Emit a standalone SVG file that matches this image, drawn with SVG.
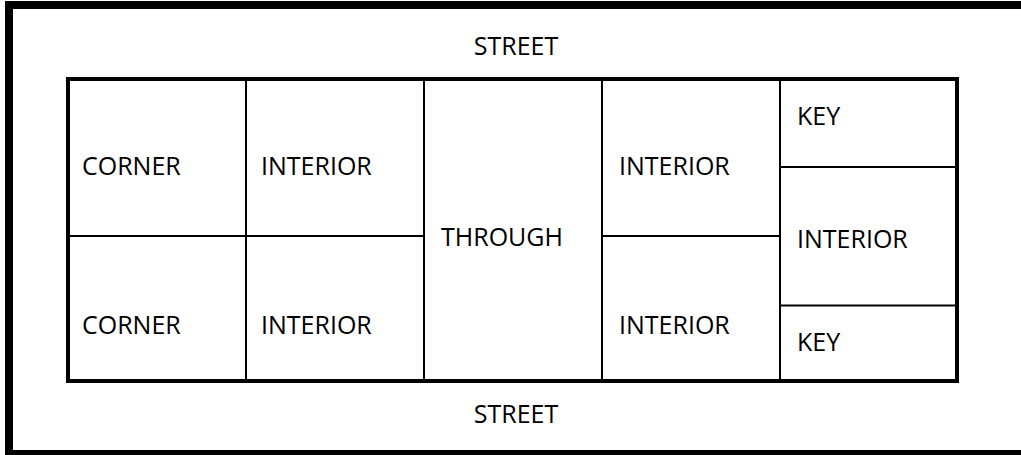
<svg xmlns="http://www.w3.org/2000/svg" width="1021" height="455" viewBox="0 0 1021 455">
<style>
.t{font-family:"Open Sans","Liberation Sans",sans-serif;font-size:25px;fill:#000}
.c{fill:none;stroke:#000;stroke-width:2}
</style>
<rect width="1021" height="455" fill="#fff"/>
<rect id="frame" x="9" y="5" width="1040" height="449" fill="none" stroke="#000" stroke-width="8"/>
<g id="streets">
<text class="t" x="516" y="55" text-anchor="middle">STREET</text>
<text class="t" x="516" y="423" text-anchor="middle">STREET</text>
</g>
<g id="block">
<rect x="68" y="79" width="889" height="302" fill="none" stroke="#000" stroke-width="4"/>
</g>
<g id="connectors">
<line class="c" x1="246" y1="79" x2="246" y2="381"/>
<line class="c" x1="424" y1="79" x2="424" y2="381"/>
<line class="c" x1="602" y1="79" x2="602" y2="381"/>
<line class="c" x1="780" y1="79" x2="780" y2="381"/>
<line class="c" x1="68" y1="236" x2="424" y2="236"/>
<line class="c" x1="602" y1="236" x2="780" y2="236"/>
<line class="c" x1="780" y1="167" x2="957" y2="167"/>
<line class="c" x1="780" y1="305.5" x2="957" y2="305.5"/>
</g>
<g id="lot-corner-top"><text class="t" x="82" y="175">CORNER</text></g>
<g id="lot-interior-1"><text class="t" x="261" y="175">INTERIOR</text></g>
<g id="lot-through"><text class="t" x="441" y="246">THROUGH</text></g>
<g id="lot-interior-2"><text class="t" x="619" y="175">INTERIOR</text></g>
<g id="lot-key-top"><text class="t" x="797" y="125">KEY</text></g>
<g id="lot-interior-right"><text class="t" x="797" y="248">INTERIOR</text></g>
<g id="lot-corner-bottom"><text class="t" x="82" y="334">CORNER</text></g>
<g id="lot-interior-3"><text class="t" x="261" y="334">INTERIOR</text></g>
<g id="lot-interior-4"><text class="t" x="619" y="334">INTERIOR</text></g>
<g id="lot-key-bottom"><text class="t" x="797" y="351">KEY</text></g>
</svg>
